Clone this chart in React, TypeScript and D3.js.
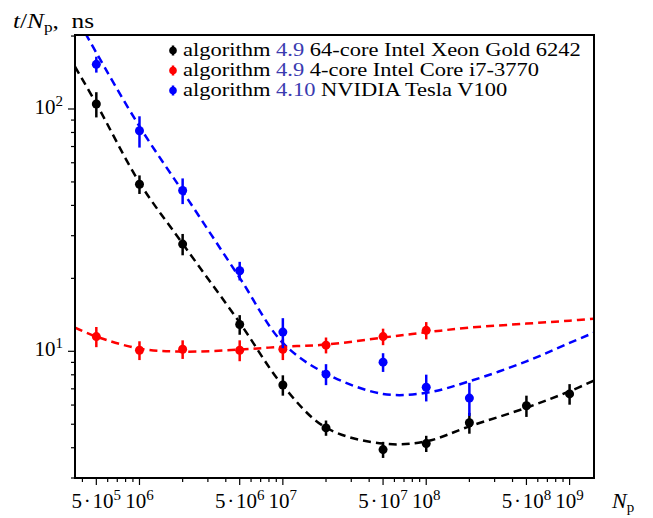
import React from 'react';
import * as d3 from 'd3';

// measured points: particle count vs time per particle (ns)
const sizes = [5e5, 1e6, 2e6, 5e6, 1e7, 2e7, 5e7, 1e8, 2e8, 5e8, 1e9];

const xeonT = [104.8, 48.9, 27.7, 12.9, 7.26, 4.83, 3.93, 4.16, 5.07, 5.96, 6.67];
const xeonErr = [12.5, 4.3, 2.8, 1.2, 0.7, 0.35, 0.3, 0.32, 0.5, 0.6, 0.65];

const i7T = [11.5, 10.1, 10.2, 10.1, 10.2, 10.6, 11.5, 12.2];
const i7Err = [1.1, 0.9, 0.9, 1.0, 1.0, 0.8, 0.9, 1.0];

const v100T = [152.8, 81.3, 46.1, 21.5, 12.0, 8.05, 9.02, 7.11, 6.41];
const v100Err = [11.5, 12, 5.6, 1.9, 1.7, 0.8, 0.8, 0.9, 1.0];

// fit curves (dashed)
const xeonFitN = [3.55e5, 5e5, 1e6, 2e6, 5e6, 1e7, 2e7, 5e7, 1e8, 2e8, 5e8, 1e9, 1.48e9];
const xeonFitT = [149.4, 105.2, 49.7, 27.8, 13.13, 7.22, 4.84, 4.16, 4.25, 4.9, 5.85, 6.84, 7.57];

const i7FitN = [3.55e5, 5e5, 1e6, 2e6, 5e6, 1e7, 2e7, 5e7, 1e8, 2e8, 5e8, 1e9, 1.48e9];
const i7FitT = [12.52, 11.5, 10.26, 9.97, 10.16, 10.45, 10.66, 11.39, 11.98, 12.52, 13.01, 13.38, 13.64];

const v100FitN = [4.2e5, 5e5, 1e6, 2e6, 5e6, 1e7, 2e7, 5e7, 1e8, 2e8, 5e8, 1e9, 1.48e9];
const v100FitT = [205, 170.7, 84.7, 45.7, 20.1, 10.83, 8.09, 6.67, 6.74, 7.52, 9.09, 10.83, 11.94];

const xLabelTicks = [5e5, 1e6, 5e6, 1e7, 5e7, 1e8, 5e8, 1e9];
const xLabelMant = ['5\u200a·\u200a10', '10', '5\u200a·\u200a10', '10', '5\u200a·\u200a10', '10', '5\u200a·\u200a10', '10'];
const xLabelExp = ['5', '6', '6', '7', '7', '8', '8', '9'];
const yLabelTicks = [10, 100];
const yLabelExp = ['1', '2'];

const series = [
  { name: '64-core Intel Xeon Gold 6242', alg: '4.9', color: '#000000', n: sizes, t: xeonT, e: xeonErr, fn: xeonFitN, ft: xeonFitT },
  { name: '4-core Intel Core i7-3770', alg: '4.9', color: '#ff0000', n: sizes, t: i7T, e: i7Err, fn: i7FitN, ft: i7FitT },
  { name: 'NVIDIA Tesla V100', alg: '4.10', color: '#0000ff', n: sizes, t: v100T, e: v100Err, fn: v100FitN, ft: v100FitT },
];

const W = 653;
const H = 518;
const L = 75, R = 594, T = 35, B = 478;
const FONT = '"Liberation Serif", "DejaVu Serif", serif';

export default function App() {
  const x = d3.scaleLog().domain([3.55e5, 1.48e9]).range([L, R]);
  const y = d3.scaleLog().domain([3.0, 202]).range([B, T]);

  // minor ticks for each decade
  const xMinor: number[] = [];
  for (let p = 5; p <= 9; p++) for (let m = 1; m <= 9; m++) {
    const v = m * Math.pow(10, p);
    if (v >= 3.55e5 && v <= 1.48e9 && !xLabelTicks.includes(v)) xMinor.push(v);
  }
  const yMinor: number[] = [];
  for (let p = 0; p <= 2; p++) for (let m = 1; m <= 9; m++) {
    const v = m * Math.pow(10, p);
    if (v >= 3.0 && v <= 202 && !yLabelTicks.includes(v)) yMinor.push(v);
  }

  const line = d3.line<[number, number]>()
    .x(d => x(d[0]))
    .y(d => y(d[1]))
    .curve(d3.curveCatmullRom.alpha(0.5));

  return (
    <svg width={W} height={H} style={{ position: 'absolute', left: 0, top: 0, background: '#fff' }} fontFamily={FONT}>
      <defs>
        <clipPath id="plot"><rect x={L} y={T} width={R - L} height={B - T} /></clipPath>
      </defs>

      {/* fit curves */}
      <g clipPath="url(#plot)" fill="none">
        {series.map(s => (
          <path key={s.color} d={line(s.fn.map((v, i) => [v, s.ft[i]] as [number, number])) || ''}
            stroke={s.color} strokeWidth={2.5} strokeDasharray="8,5" />
        ))}
      </g>

      {/* data with error bars */}
      {series.map(s => (
        <g key={s.color} fill={s.color} stroke={s.color}>
          {s.t.map((v, i) => (
            <g key={i}>
              <line x1={x(s.n[i])} x2={x(s.n[i])} y1={y(v - s.e[i])} y2={y(v + s.e[i])} strokeWidth={2.5} />
              <circle cx={x(s.n[i])} cy={y(v)} r={4.5} stroke="none" />
            </g>
          ))}
        </g>
      ))}

      {/* frame */}
      <rect x={L} y={T} width={R - L} height={B - T} fill="none" stroke="#000" strokeWidth={2} />

      {/* ticks */}
      <g stroke="#000" strokeWidth={1.2}>
        {xMinor.map(v => <line key={v} x1={x(v)} x2={x(v)} y1={B} y2={B + 4} />)}
        {xLabelTicks.map(v => <line key={v} x1={x(v)} x2={x(v)} y1={B} y2={B + 7} />)}
        {yMinor.map(v => <line key={v} x1={L} x2={L - 4} y1={y(v)} y2={y(v)} />)}
        {yLabelTicks.map(v => <line key={v} x1={L} x2={L - 7} y1={y(v)} y2={y(v)} />)}
      </g>
      <g fontSize={21} fill="#000">
        {xLabelTicks.map((v, i) => (
          <text key={v} x={x(v)} y={508} textAnchor="middle">
            {xLabelMant[i]}<tspan dy={-8} fontSize={15}>{xLabelExp[i]}</tspan>
          </text>
        ))}
        {yLabelTicks.map((v, i) => (
          <text key={v} x={L - 12} y={y(v) + 5} textAnchor="end">
            10<tspan dy={-8} fontSize={15}>{yLabelExp[i]}</tspan>
          </text>
        ))}
      </g>

      {/* axis titles */}
      <text transform="translate(13,28) scale(1.15,1)" fontSize={22}>
        <tspan fontStyle="italic">t</tspan>/<tspan fontStyle="italic">N</tspan>
        <tspan dy={4} fontSize={15}>p</tspan><tspan dy={-4}>,{'\u2002'}ns</tspan>
      </text>
      <text x={612} y={508} fontSize={22}>
        <tspan fontStyle="italic">N</tspan><tspan dy={4} fontSize={15}>p</tspan>
      </text>

      {/* legend */}
      <g fontSize={18}>
        {series.map((s, i) => {
          const cy = 50.5 + i * 20;
          return (
            <g key={s.color}>
              <line x1={173} x2={173} y1={cy - 5} y2={cy + 5} stroke={s.color} strokeWidth={2.5} />
              <circle cx={173} cy={cy} r={3.8} fill={s.color} />
              <text transform={`translate(183,${cy + 5.5}) scale(1.25,1)`} fill="#000">
                algorithm <tspan fill="#3b3bb0">{s.alg}</tspan> {s.name}
              </text>
            </g>
          );
        })}
      </g>
    </svg>
  );
}
